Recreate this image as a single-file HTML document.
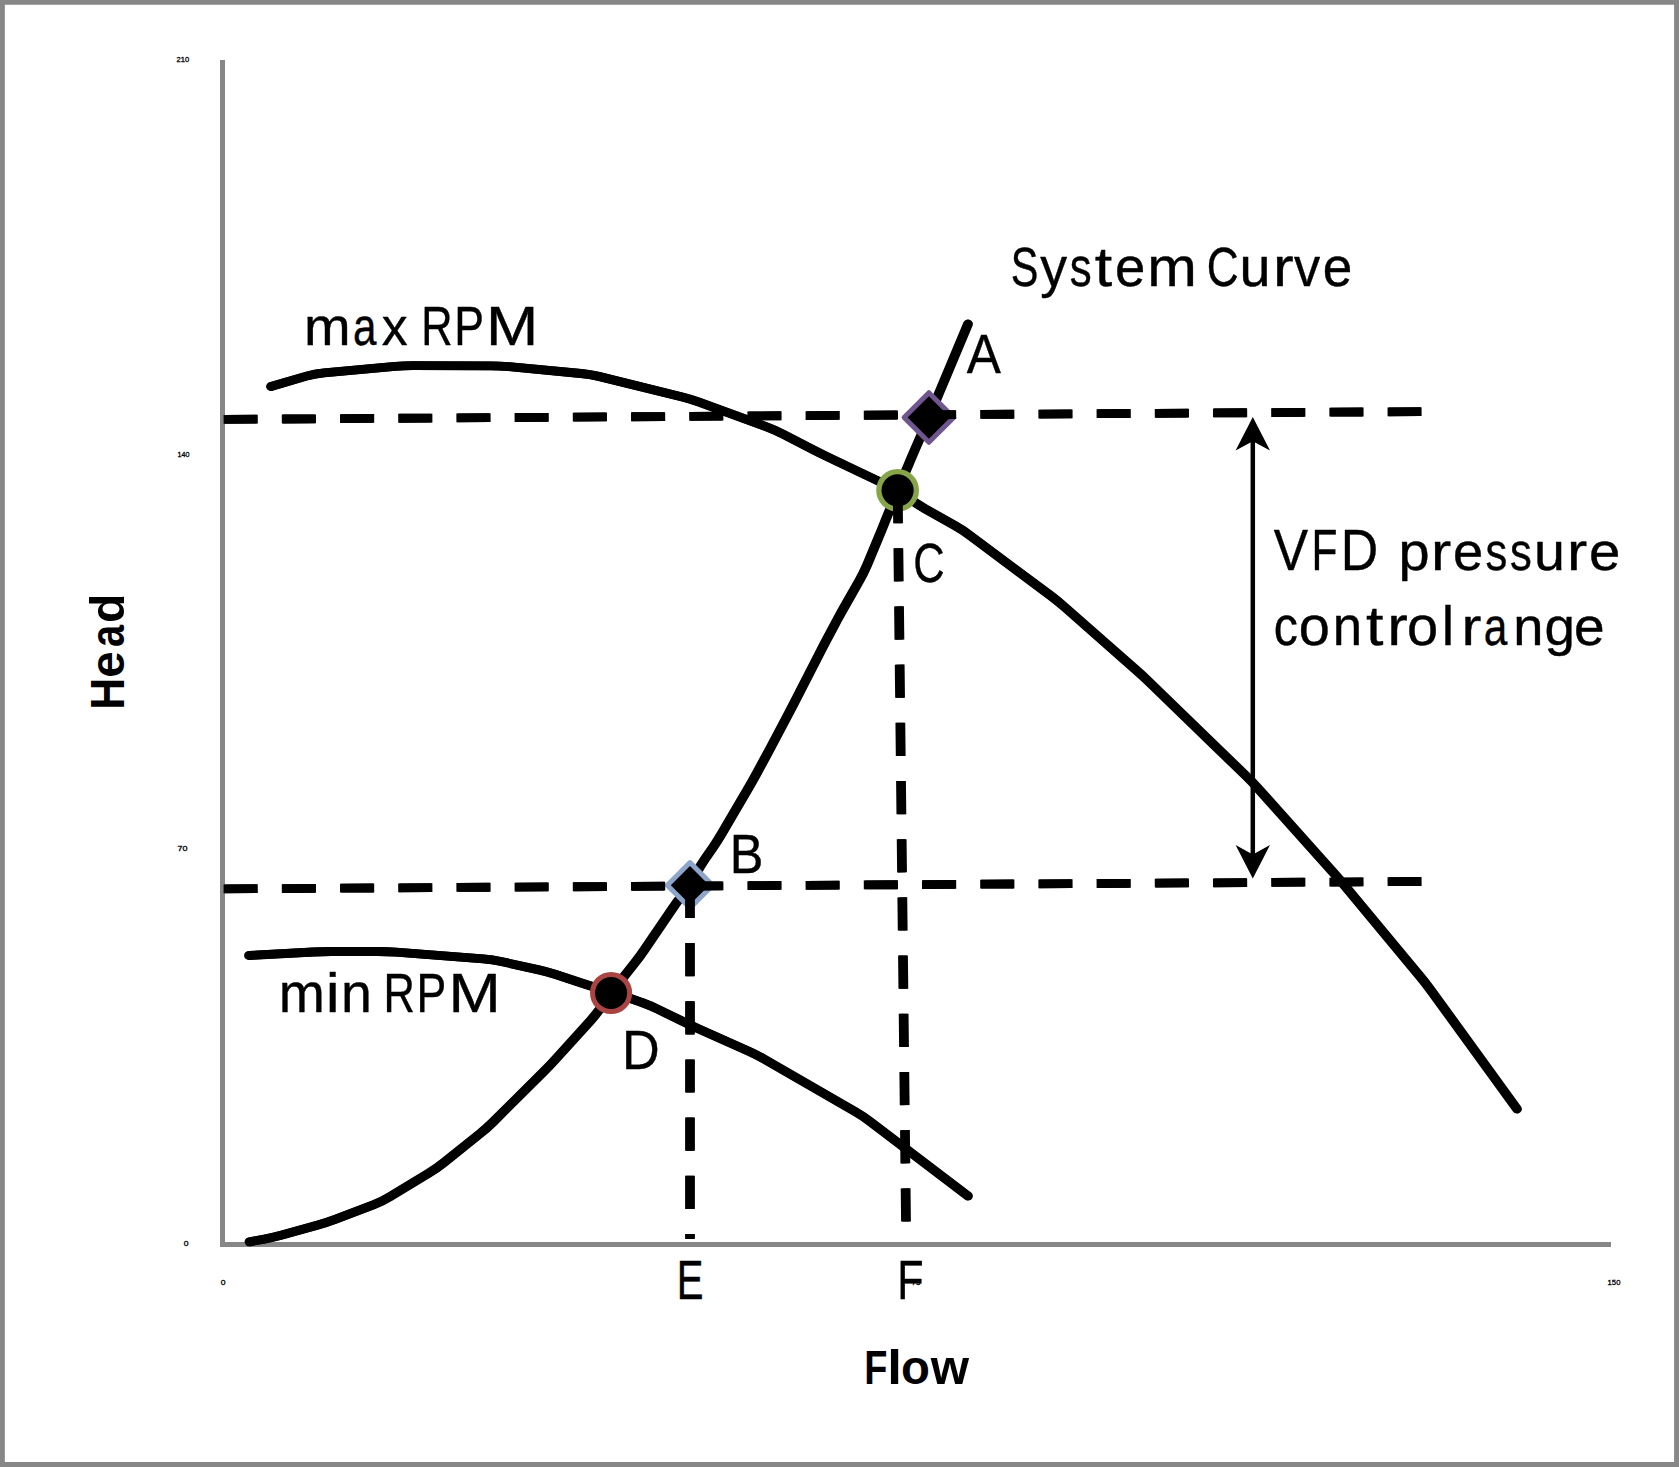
<!DOCTYPE html>
<html lang="en"><head><meta charset="utf-8"><title>Pump curves - VFD pressure control range</title>
<style>
html,body{margin:0;padding:0;background:#fff;}
body{width:1679px;height:1467px;overflow:hidden;}
svg{display:block;font-family:"Liberation Sans", sans-serif;}
text{fill:#000;}
</style></head><body>
<svg width="1679" height="1467" viewBox="0 0 1679 1467">
<rect x="0" y="0" width="1679" height="1467" fill="#fff"/>
<path d="M0,0 H1679 V1467 H0 Z M4.85,4.85 V1462.1 H1674.1 V4.85 Z" fill="#878787" fill-rule="evenodd"/>
<!-- axes -->
<rect x="220" y="60" width="5" height="1187" fill="#878787"/>
<rect x="220" y="1242" width="1391" height="5" fill="#878787"/>

<g transform="translate(-0.5,0)">
<path d="M271.0,386.5 L306.4,376.1 Q315.0,373.6 324.0,372.8 L395.0,366.4 Q404.0,365.6 413.0,365.6 L491.0,365.8 Q500.0,365.8 509.0,366.6 L581.0,373.5 Q590.0,374.3 598.7,376.4 L681.3,396.7 Q690.0,398.8 698.4,401.9 L766.6,426.9 Q775.0,430.0 783.0,434.1 L812.0,449.1 Q820.0,453.2 828.1,457.1 L889.5,486.4 Q897.6,490.3 904.9,495.5 L910.1,499.2 Q917.4,504.4 925.2,508.8 L955.0,525.7 Q962.8,530.1 970.0,535.5 L1050.3,595.4 Q1057.5,600.8 1064.3,606.7 L1135.7,669.6 Q1142.5,675.5 1149.0,681.8 L1245.8,775.7 Q1252.3,782.0 1258.3,788.7 L1333.5,872.8 Q1339.5,879.5 1345.3,886.4 L1419.8,976.1 Q1425.6,983.0 1430.9,990.3 L1517.0,1109.0" fill="none" stroke="#000" stroke-width="8.8" stroke-linecap="round" stroke-linejoin="round"/>
<path d="M249.0,955.5 L313.2,952.0 Q322.2,951.5 331.2,951.5 L378.0,951.5 Q387.0,951.5 396.0,952.2 L483.3,958.9 Q492.3,959.6 501.1,961.5 L537.7,969.6 Q546.5,971.5 555.0,974.3 L581.5,983.0 Q590.0,985.8 598.6,988.5 L623.4,996.3 Q632.0,999.0 640.1,1001.9 L641.9,1002.5 Q650.0,1005.4 658.1,1009.4 L681.5,1020.8 Q689.6,1024.8 697.8,1028.5 L749.3,1051.5 Q757.5,1055.2 765.3,1059.7 L855.0,1111.5 Q862.8,1116.0 870.0,1121.4 L968.0,1196.0" fill="none" stroke="#000" stroke-width="8.8" stroke-linecap="round" stroke-linejoin="round"/>
<path d="M249.5,1241.8 L264.4,1239.1 Q273.3,1237.5 282.0,1235.1 L318.0,1224.9 Q326.7,1222.5 335.1,1219.3 L373.3,1204.9 Q381.7,1201.7 389.4,1197.0 L429.0,1173.0 Q436.7,1168.3 443.7,1162.7 L479.7,1133.9 Q486.7,1128.3 493.1,1122.0 L543.7,1071.6 Q550.1,1065.3 556.1,1058.6 L590.9,1020.2 Q596.9,1013.5 602.0,1006.1 L606.0,1000.3 Q611.1,992.9 616.7,985.8 L634.7,963.1 Q640.3,956.0 645.3,948.5 L672.0,909.2 Q677.0,901.7 682.6,894.6 L684.4,892.4 Q690.0,885.3 694.2,877.3 L696.0,873.9 Q700.2,865.9 705.3,858.5 L712.8,847.7 Q717.9,840.3 722.4,832.5 L748.6,787.8 Q753.1,780.0 757.4,772.1 L765.1,757.9 Q769.4,750.0 773.6,742.0 L788.0,714.8 Q792.2,706.8 796.3,698.8 L822.3,648.0 Q826.4,640.0 830.7,632.1 L837.4,619.5 Q841.7,611.6 846.2,603.8 L859.2,580.9 Q863.7,573.1 867.2,564.8 L878.1,538.5 Q881.6,530.2 884.9,521.8 L894.3,498.7 Q897.6,490.3 901.1,482.0 L908.1,465.7 Q911.6,457.4 915.2,449.1 L925.3,425.8 Q928.9,417.5 932.4,409.2 L938.5,394.3 Q942.0,386.0 945.5,377.7 L968.0,324.0" fill="none" stroke="#000" stroke-width="8.8" stroke-linecap="round" stroke-linejoin="round"/>
</g>
<g transform="translate(0.5,0)">
<path d="M271.0,386.5 L306.4,376.1 Q315.0,373.6 324.0,372.8 L395.0,366.4 Q404.0,365.6 413.0,365.6 L491.0,365.8 Q500.0,365.8 509.0,366.6 L581.0,373.5 Q590.0,374.3 598.7,376.4 L681.3,396.7 Q690.0,398.8 698.4,401.9 L766.6,426.9 Q775.0,430.0 783.0,434.1 L812.0,449.1 Q820.0,453.2 828.1,457.1 L889.5,486.4 Q897.6,490.3 904.9,495.5 L910.1,499.2 Q917.4,504.4 925.2,508.8 L955.0,525.7 Q962.8,530.1 970.0,535.5 L1050.3,595.4 Q1057.5,600.8 1064.3,606.7 L1135.7,669.6 Q1142.5,675.5 1149.0,681.8 L1245.8,775.7 Q1252.3,782.0 1258.3,788.7 L1333.5,872.8 Q1339.5,879.5 1345.3,886.4 L1419.8,976.1 Q1425.6,983.0 1430.9,990.3 L1517.0,1109.0" fill="none" stroke="#000" stroke-width="8.8" stroke-linecap="round" stroke-linejoin="round"/>
<path d="M249.0,955.5 L313.2,952.0 Q322.2,951.5 331.2,951.5 L378.0,951.5 Q387.0,951.5 396.0,952.2 L483.3,958.9 Q492.3,959.6 501.1,961.5 L537.7,969.6 Q546.5,971.5 555.0,974.3 L581.5,983.0 Q590.0,985.8 598.6,988.5 L623.4,996.3 Q632.0,999.0 640.1,1001.9 L641.9,1002.5 Q650.0,1005.4 658.1,1009.4 L681.5,1020.8 Q689.6,1024.8 697.8,1028.5 L749.3,1051.5 Q757.5,1055.2 765.3,1059.7 L855.0,1111.5 Q862.8,1116.0 870.0,1121.4 L968.0,1196.0" fill="none" stroke="#000" stroke-width="8.8" stroke-linecap="round" stroke-linejoin="round"/>
<path d="M249.5,1241.8 L264.4,1239.1 Q273.3,1237.5 282.0,1235.1 L318.0,1224.9 Q326.7,1222.5 335.1,1219.3 L373.3,1204.9 Q381.7,1201.7 389.4,1197.0 L429.0,1173.0 Q436.7,1168.3 443.7,1162.7 L479.7,1133.9 Q486.7,1128.3 493.1,1122.0 L543.7,1071.6 Q550.1,1065.3 556.1,1058.6 L590.9,1020.2 Q596.9,1013.5 602.0,1006.1 L606.0,1000.3 Q611.1,992.9 616.7,985.8 L634.7,963.1 Q640.3,956.0 645.3,948.5 L672.0,909.2 Q677.0,901.7 682.6,894.6 L684.4,892.4 Q690.0,885.3 694.2,877.3 L696.0,873.9 Q700.2,865.9 705.3,858.5 L712.8,847.7 Q717.9,840.3 722.4,832.5 L748.6,787.8 Q753.1,780.0 757.4,772.1 L765.1,757.9 Q769.4,750.0 773.6,742.0 L788.0,714.8 Q792.2,706.8 796.3,698.8 L822.3,648.0 Q826.4,640.0 830.7,632.1 L837.4,619.5 Q841.7,611.6 846.2,603.8 L859.2,580.9 Q863.7,573.1 867.2,564.8 L878.1,538.5 Q881.6,530.2 884.9,521.8 L894.3,498.7 Q897.6,490.3 901.1,482.0 L908.1,465.7 Q911.6,457.4 915.2,449.1 L925.3,425.8 Q928.9,417.5 932.4,409.2 L938.5,394.3 Q942.0,386.0 945.5,377.7 L968.0,324.0" fill="none" stroke="#000" stroke-width="8.8" stroke-linecap="round" stroke-linejoin="round"/>
</g>
<circle cx="897.6" cy="490.3" r="18.75" fill="#000" stroke="#86A448" stroke-width="5.3"/>
<circle cx="611.1" cy="993" r="18.55" fill="#000" stroke="#A94442" stroke-width="5"/>
<path d="M928.9,392.7 L953.6999999999999,417.5 L928.9,442.3 L904.1,417.5 Z" fill="#000" stroke="#70568F" stroke-width="5" stroke-linejoin="round"/>
<path d="M690,862.5999999999999 L712.7,885.3 L690,908.0 L667.3,885.3 Z" fill="#000" stroke="#8DA4CB" stroke-width="5" stroke-linejoin="round"/>
<g transform="translate(-0.5,0)" stroke="#000" stroke-width="8.8" stroke-dasharray="33.2 25">
<line x1="224.1" y1="419.4" x2="1421.1" y2="411.6"/>
<line x1="224.1" y1="888.9" x2="1421.1" y2="881.5"/>
<line x1="897.7" y1="490" x2="906" y2="1222"/>
<line x1="690" y1="884.8" x2="690" y2="1239"/>
</g>
<g transform="translate(0.5,0)" stroke="#000" stroke-width="8.8" stroke-dasharray="33.2 25">
<line x1="224.1" y1="419.4" x2="1421.1" y2="411.6"/>
<line x1="224.1" y1="888.9" x2="1421.1" y2="881.5"/>
<line x1="897.7" y1="490" x2="906" y2="1222"/>
<line x1="690" y1="884.8" x2="690" y2="1239"/>
</g>
<line x1="1252.8" y1="430" x2="1252.8" y2="866" stroke="#000" stroke-width="4.5"/>
<path d="M1252.8,417 L1270,450.5 L1252.8,441.2 L1235.6,450.5 Z" fill="#000"/>
<path d="M1252.8,878.6 L1270,845 L1252.8,854.4 L1235.6,845 Z" fill="#000"/>
<text y="373.40" font-size="56" stroke="#000" stroke-width="0.4" stroke-linejoin="round"><tspan x="966.80" textLength="34.10" lengthAdjust="spacingAndGlyphs">A</tspan></text>
<text y="873.40" font-size="56" stroke="#000" stroke-width="0.4" stroke-linejoin="round"><tspan x="729.87" textLength="33.59" lengthAdjust="spacingAndGlyphs">B</tspan></text>
<text y="582.40" font-size="56" stroke="#000" stroke-width="0.4" stroke-linejoin="round"><tspan x="913.19" textLength="31.36" lengthAdjust="spacingAndGlyphs">C</tspan></text>
<text y="1069.10" font-size="56" stroke="#000" stroke-width="0.4" stroke-linejoin="round"><tspan x="621.92" textLength="37.68" lengthAdjust="spacingAndGlyphs">D</tspan></text>
<text y="1298.60" font-size="56" stroke="#000" stroke-width="0.4" stroke-linejoin="round"><tspan x="676.82" textLength="26.70" lengthAdjust="spacingAndGlyphs">E</tspan></text>
<text y="1298.60" font-size="56" stroke="#000" stroke-width="0.4" stroke-linejoin="round"><tspan x="897.16" textLength="26.37" lengthAdjust="spacingAndGlyphs">F</tspan></text>
<text y="286.10" font-size="56" stroke="#000" stroke-width="0.4" stroke-linejoin="round"><tspan font-size="56"><tspan x="1010.82" textLength="27.61" lengthAdjust="spacingAndGlyphs">S</tspan><tspan x="1040.37" textLength="26.79" lengthAdjust="spacingAndGlyphs">y</tspan><tspan x="1069.84" textLength="21.92" lengthAdjust="spacingAndGlyphs">s</tspan><tspan x="1094.66" textLength="17.43" lengthAdjust="spacingAndGlyphs">t</tspan><tspan x="1114.99" textLength="30.30" lengthAdjust="spacingAndGlyphs">e</tspan><tspan x="1147.16" textLength="49.56" lengthAdjust="spacingAndGlyphs">m</tspan></tspan> <tspan font-size="56"><tspan x="1206.75" textLength="31.93" lengthAdjust="spacingAndGlyphs">C</tspan><tspan x="1239.48" textLength="31.03" lengthAdjust="spacingAndGlyphs">u</tspan><tspan x="1273.08" textLength="20.65" lengthAdjust="spacingAndGlyphs">r</tspan><tspan x="1293.92" textLength="26.16" lengthAdjust="spacingAndGlyphs">v</tspan><tspan x="1322.75" textLength="29.51" lengthAdjust="spacingAndGlyphs">e</tspan></tspan></text>
<text y="344.60" font-size="56" stroke="#000" stroke-width="0.4" stroke-linejoin="round"><tspan font-size="54.2"><tspan x="303.98" textLength="46.66" lengthAdjust="spacingAndGlyphs">m</tspan><tspan x="352.99" textLength="23.47" lengthAdjust="spacingAndGlyphs">a</tspan><tspan x="381.74" textLength="25.91" lengthAdjust="spacingAndGlyphs">x</tspan></tspan> <tspan font-size="56"><tspan x="421.14" textLength="31.38" lengthAdjust="spacingAndGlyphs">R</tspan><tspan x="454.15" textLength="29.70" lengthAdjust="spacingAndGlyphs">P</tspan><tspan x="486.10" textLength="52.25" lengthAdjust="spacingAndGlyphs">M</tspan></tspan></text>
<text y="569.50" font-size="56" stroke="#000" stroke-width="0.4" stroke-linejoin="round"><tspan font-size="57.5"><tspan x="1273.77" textLength="34.35" lengthAdjust="spacingAndGlyphs">V</tspan><tspan x="1311.57" textLength="25.93" lengthAdjust="spacingAndGlyphs">F</tspan><tspan x="1340.85" textLength="37.43" lengthAdjust="spacingAndGlyphs">D</tspan></tspan> <tspan font-size="54.2"><tspan x="1398.60" textLength="31.10" lengthAdjust="spacingAndGlyphs">p</tspan><tspan x="1431.12" textLength="20.21" lengthAdjust="spacingAndGlyphs">r</tspan><tspan x="1453.06" textLength="30.14" lengthAdjust="spacingAndGlyphs">e</tspan><tspan x="1485.41" textLength="21.80" lengthAdjust="spacingAndGlyphs">s</tspan><tspan x="1510.11" textLength="21.80" lengthAdjust="spacingAndGlyphs">s</tspan><tspan x="1534.11" textLength="30.91" lengthAdjust="spacingAndGlyphs">u</tspan><tspan x="1567.14" textLength="20.21" lengthAdjust="spacingAndGlyphs">r</tspan><tspan x="1588.98" textLength="31.32" lengthAdjust="spacingAndGlyphs">e</tspan></tspan></text>
<text y="644.60" font-size="56" stroke="#000" stroke-width="0.4" stroke-linejoin="round"><tspan font-size="56"><tspan x="1273.85" textLength="24.12" lengthAdjust="spacingAndGlyphs">c</tspan><tspan x="1298.75" textLength="31.10" lengthAdjust="spacingAndGlyphs">o</tspan><tspan x="1332.70" textLength="29.33" lengthAdjust="spacingAndGlyphs">n</tspan><tspan x="1365.94" textLength="17.43" lengthAdjust="spacingAndGlyphs">t</tspan><tspan x="1387.31" textLength="20.51" lengthAdjust="spacingAndGlyphs">r</tspan><tspan x="1407.05" textLength="31.10" lengthAdjust="spacingAndGlyphs">o</tspan><tspan x="1441.64" textLength="12.39" lengthAdjust="spacingAndGlyphs">l</tspan></tspan> <tspan font-size="54.2"><tspan x="1461.53" textLength="19.92" lengthAdjust="spacingAndGlyphs">r</tspan><tspan x="1483.78" textLength="23.62" lengthAdjust="spacingAndGlyphs">a</tspan><tspan x="1513.22" textLength="30.14" lengthAdjust="spacingAndGlyphs">n</tspan><tspan x="1544.64" textLength="30.45" lengthAdjust="spacingAndGlyphs">g</tspan><tspan x="1573.96" textLength="30.58" lengthAdjust="spacingAndGlyphs">e</tspan></tspan></text>
<text y="1011.70" font-size="56" stroke="#000" stroke-width="0.4" stroke-linejoin="round"><tspan font-size="56"><tspan x="278.82" textLength="46.10" lengthAdjust="spacingAndGlyphs">m</tspan><tspan x="325.81" textLength="13.93" lengthAdjust="spacingAndGlyphs">i</tspan><tspan x="340.92" textLength="30.89" lengthAdjust="spacingAndGlyphs">n</tspan></tspan> <tspan font-size="56"><tspan x="383.44" textLength="31.38" lengthAdjust="spacingAndGlyphs">R</tspan><tspan x="416.45" textLength="29.70" lengthAdjust="spacingAndGlyphs">P</tspan><tspan x="448.40" textLength="52.25" lengthAdjust="spacingAndGlyphs">M</tspan></tspan></text>
<text y="1383.90" font-size="48.3" font-weight="700"><tspan x="864.31" textLength="23.18" lengthAdjust="spacingAndGlyphs">F</tspan><tspan x="887.16" textLength="14.68" lengthAdjust="spacingAndGlyphs">l</tspan><tspan x="900.95" textLength="28.90" lengthAdjust="spacingAndGlyphs">o</tspan><tspan x="930.84" textLength="38.26" lengthAdjust="spacingAndGlyphs">w</tspan></text>
<text y="0.00" font-size="48.3" font-weight="700" transform="translate(124.05,706.93) rotate(-90)"><tspan x="-2.95" textLength="31.88" lengthAdjust="spacingAndGlyphs">H</tspan><tspan x="29.14" textLength="26.49" lengthAdjust="spacingAndGlyphs">e</tspan><tspan x="59.84" textLength="22.11" lengthAdjust="spacingAndGlyphs">a</tspan><tspan x="83.87" textLength="29.46" lengthAdjust="spacingAndGlyphs">d</tspan></text>
<text x="176.6" y="62" font-size="7.6" stroke="#000" stroke-width="0.3" textLength="12.6" lengthAdjust="spacingAndGlyphs">210</text>
<text x="177.4" y="457.2" font-size="7.6" stroke="#000" stroke-width="0.3" textLength="12" lengthAdjust="spacingAndGlyphs">140</text>
<text x="177.6" y="851.1" font-size="7.6" stroke="#000" stroke-width="0.3" textLength="10" lengthAdjust="spacingAndGlyphs">70</text>
<text x="183.7" y="1246.2" font-size="7.6" stroke="#000" stroke-width="0.3" textLength="4.8" lengthAdjust="spacingAndGlyphs">0</text>
<text x="220.7" y="1285" font-size="7.6" stroke="#000" stroke-width="0.3" textLength="4.8" lengthAdjust="spacingAndGlyphs">0</text>
<text x="911.5" y="1285" font-size="7.6" stroke="#000" stroke-width="0.3" textLength="9" lengthAdjust="spacingAndGlyphs">75</text>
<text x="1607.6" y="1285" font-size="7.6" stroke="#000" stroke-width="0.3" textLength="12.8" lengthAdjust="spacingAndGlyphs">150</text>
</svg></body></html>
